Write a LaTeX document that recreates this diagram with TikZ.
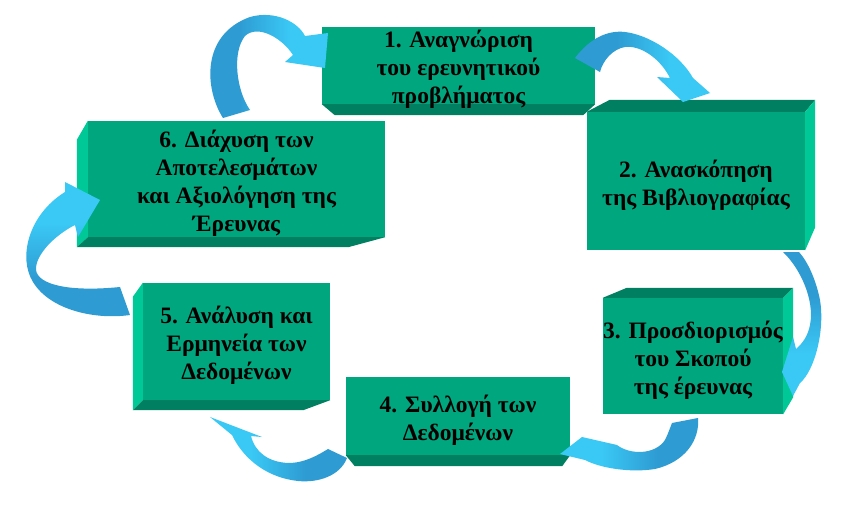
\documentclass[tikz,border=0pt]{standalone}
\usepackage{fontspec}
\setmainfont{Liberation Serif}
\usetikzlibrary{calc}
\definecolor{frontgreen}{RGB}{0,166,126}
\definecolor{darkgreen}{RGB}{0,128,96}
\definecolor{lightgreen}{RGB}{0,200,150}
\definecolor{arrowdark}{RGB}{46,155,210}
\definecolor{arrowlight}{RGB}{58,200,245}
\pgfdeclarehorizontalshading{bandshade}{100bp}{color(0bp)=(arrowdark); color(40bp)=(arrowdark); color(60bp)=(arrowlight); color(100bp)=(arrowlight)}
\tikzset{
  stepbox/.style={fill=frontgreen, inner sep=0pt},
  steptext/.style={align=center, inner sep=0pt, yshift=-4pt,
    font=\bfseries\fontsize{23.5}{28}\selectfont},
  darkface/.style={fill=darkgreen},
  lightface/.style={fill=lightgreen},
  bandarrow/.style={shading=bandshade, shading angle=#1}
}
\begin{document}
\begin{tikzpicture}[x=1pt, y=-1pt]
  \useasboundingbox[fill=white] (0,0) rectangle (865,509);
  % boxes (front faces)
  \node[stepbox, minimum width=273, minimum height=77] (b1) at (458.5,65.5) {};
  \node[stepbox, minimum width=218, minimum height=138] (b2) at (696,181) {};
  \node[stepbox, minimum width=180, minimum height=116] (b3) at (693,356) {};
  \node[stepbox, minimum width=224, minimum height=78] (b4) at (458,416) {};
  \node[stepbox, minimum width=187, minimum height=117] (b5) at (236.5,341.5) {};
  \node[stepbox, minimum width=297, minimum height=116] (b6) at (236.5,179) {};
  % bevels
  \fill[darkface] (b1.south west) -- (b1.south east) -- ($(b1.south east)+(-12,11)$) -- ($(b1.south west)+(13,11)$) -- cycle;
  \fill[darkface] (b2.north west) -- ($(b2.north west)+(23,-12)$) -- ($(b2.north east)+(10,-12)$) -- (b2.north east) -- cycle;
  \fill[lightface] (b2.north east) -- ($(b2.north east)+(10,-12)$) -- ($(b2.south east)+(10,-23)$) -- (b2.south east) -- cycle;
  \fill[darkface] (b3.north west) -- ($(b3.north west)+(24,-10)$) -- ($(b3.north east)+(10,-10)$) -- (b3.north east) -- cycle;
  \fill[lightface] (b3.north east) -- ($(b3.north east)+(10,-10)$) -- ($(b3.south east)+(10,-17)$) -- (b3.south east) -- cycle;
  \fill[darkface] (b4.south west) -- (b4.south east) -- ($(b4.south east)+(-8,11)$) -- ($(b4.south west)+(9,11)$) -- cycle;
  \fill[lightface] (b5.north west) -- (b5.south west) -- ($(b5.south west)+(-10,10)$) -- ($(b5.north west)+(-10,14)$) -- cycle;
  \fill[darkface] (b5.south west) -- (b5.south east) -- ($(b5.south east)+(-27,10)$) -- ($(b5.south west)+(-10,10)$) -- cycle;
  \fill[lightface] (b6.north west) -- (b6.south west) -- ($(b6.south west)+(-11,10)$) -- ($(b6.north west)+(-11,19)$) -- cycle;
  \fill[darkface] (b6.south west) -- (b6.south east) -- ($(b6.south east)+(-37,10)$) -- ($(b6.south west)+(-11,10)$) -- cycle;
  % texts
  \node[steptext] (t1) at (b1) {1. Αναγνώριση\\του ερευνητικού\\προβλήματος};
  \node[steptext] (t2) at (b2) {2. Ανασκόπηση\\της Βιβλιογραφίας};
  \node[steptext] (t3) at (b3) {3. Προσδιορισμός\\του Σκοπού\\της έρευνας};
  \node[steptext] (t4) at (b4) {4. Συλλογή των\\Δεδομένων};
  \node[steptext] (t5) at (b5) {5. Ανάλυση και\\Ερμηνεία των\\Δεδομένων};
  \node[steptext] (t6) at (b6) {6. Διάχυση των\\Αποτελεσμάτων\\και Αξιολόγηση της\\Έρευνας};
  % curved arrows
  \path[bandarrow=0] (223,118) .. controls (205,90) and (200,35) .. (250,17) .. controls (275,10) and (298,22) .. (305,36)
    -- (328,33) -- (325,68) -- (285,62) -- (293,55) .. controls (282,38) and (258,24) .. (245,36) .. controls (232,52) and (236,90) .. (250,110) -- cycle;
  \path[bandarrow=0] (575,58) .. controls (590,38) and (608,30) .. (625,32) .. controls (650,35) and (680,55) .. (693,78)
    -- (710,93) -- (683,102) -- (657,77) -- (670,78) .. controls (660,58) and (640,45) .. (625,47) .. controls (613,49) and (603,60) .. (600,72) -- cycle;
  \path[bandarrow=-90] (783,252) .. controls (800,268) and (815,300) .. (810,325) .. controls (808,336) and (802,344) .. (796,349)
    -- (793,337) -- (782,372) -- (793,396) -- (800,383) .. controls (815,370) and (825,330) .. (820,300) .. controls (816,280) and (808,262) .. (799,252) -- cycle;
  \path[bandarrow=180] (698,418) .. controls (700,440) and (685,462) .. (655,469) .. controls (630,473) and (600,468) .. (585,460)
    -- (560,454) -- (582,437) -- (617,445) .. controls (630,455) and (655,455) .. (665,440) .. controls (668,434) and (670,428) .. (672,423) -- cycle;
  \path[bandarrow=180] (328,449) -- (347,458) .. controls (340,476) and (318,483) .. (298,481) .. controls (270,478) and (245,462) .. (232,435)
    -- (210,417) -- (262,437) -- (251,436) .. controls (255,452) and (268,462) .. (288,463) .. controls (305,463) and (318,455) .. (328,449) -- cycle;
  \path[bandarrow=90] (120,287) -- (130,315) .. controls (95,320) and (50,310) .. (33,282) .. controls (18,258) and (28,215) .. (65,192)
    -- (65,182) -- (100,200) -- (78,237) -- (75,225) .. controls (55,235) and (35,255) .. (36,270) .. controls (38,285) and (70,292) .. (120,287) -- cycle;
\end{tikzpicture}
\end{document}
